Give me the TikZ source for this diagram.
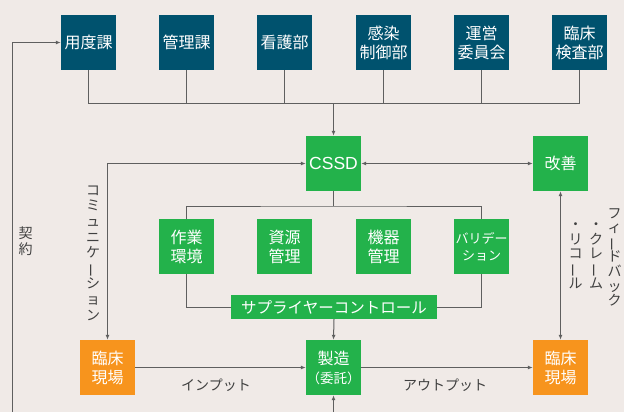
\documentclass[tikz,border=0pt]{standalone}
\usepackage{fontspec}
\setmainfont{Noto Sans CJK JP}
\newfontfamily\latinfont{Liberation Sans}
\usetikzlibrary{arrows.meta}
\definecolor{bg}{RGB}{240,234,231}
\definecolor{navybox}{RGB}{0,82,110}
\definecolor{grnbox}{RGB}{35,178,75}
\definecolor{orgbox}{RGB}{247,148,29}
\definecolor{lineg}{RGB}{95,95,95}
\definecolor{labelg}{RGB}{64,64,64}
\newcommand{\vbar}{\smash{\rotatebox[origin=c]{90}{ー}}}
\begin{document}
\begin{tikzpicture}[x=1pt,y=-1pt,
  box/.style={minimum width=55pt,minimum height=55pt,inner sep=0pt,align=center,text=white,font=\fontsize{16}{19}\selectfont},
  navy/.style={box,fill=navybox},
  grn/.style={box,fill=grnbox},
  org/.style={box,fill=orgbox},
  conn/.style={draw=lineg,line width=1pt},
  arr/.style={conn,-{Latex[length=5pt,width=4pt]}},
  arrtwo/.style={conn,{Latex[length=5pt,width=4pt]}-{Latex[length=5pt,width=4pt]}},
  lbl/.style={text=labelg,inner sep=0pt,align=center,font=\fontsize{14}{14.6}\selectfont}]
\useasboundingbox (0,0) rectangle (624,412);
\fill[bg] (0,0) rectangle (624,412);

% top row
\node[navy] (yodo)   at (88.5,42.5)  {用度課};
\node[navy] (kanri)  at (186.5,42.5) {管理課};
\node[navy] (kango)  at (284.5,42.5) {看護部};
\node[navy] (kansen) at (383.5,42.5) {感染\\制御部};
\node[navy] (unei)   at (481.5,42.5) {運営\\委員会};
\node[navy] (rinken) at (579.5,42.5) {臨床\\検査部};

% middle
\node[grn,font=\latinfont\fontsize{17.5}{20}\selectfont] (cssd) at (333.5,163.5) {CSSD};
\node[grn] (kaizen) at (560.5,163.5) {改善};
\node[grn] (sagyo)  at (186.5,246.5) {作業\\環境};
\node[grn] (shigen) at (284.5,246.5) {資源\\管理};
\node[grn] (kiki)   at (383.5,246.5) {機器\\管理};
\node[grn,font=\fontsize{13}{17}\selectfont] (valid) at (481.5,246.5) {バリデー\\ション};
\node[grn,minimum width=206pt,minimum height=24pt,font=\fontsize{15.5}{18}\selectfont] (supplier) at (334,307) {サプライヤーコントロール};

% bottom
\node[org] (clin1) at (107.5,367.5) {臨床\\現場};
\node[grn] (seizo) at (333.5,367.5) {製造\\{\fontsize{13.5}{17}\selectfont（委託）}};
\node[org] (clin2) at (560.5,367.5) {臨床\\現場};

% coordinates
\coordinate (tbus) at (333.5,103.5);
\coordinate (mbus) at (333.5,206);
\coordinate (kbot) at (12,412);
\coordinate (sbot) at (333.5,412);

% top bus
\draw[conn] (yodo.south) |- (tbus) -| (rinken.south);
\foreach \n in {kanri,kango,kansen,unei} \draw[conn] (\n.south) -- (\n.south |- tbus);
\draw[arr] (tbus) -- (cssd.north);

% middle bus
\draw[conn] (cssd.south) -- (mbus);
\draw[conn] (sagyo.north) |- (mbus) -| (valid.north);

% supplier
\draw[conn] (sagyo.south) |- (supplier.west);
\draw[conn] (valid.south) |- (supplier.east);
\draw[arr] (supplier.south) -- (seizo.north);

% arrows
\draw[arrtwo] (cssd.west) -| (clin1.north);
\draw[arrtwo] (cssd) -- (kaizen);
\draw[arrtwo] (kaizen) -- (clin2);
\draw[arr] (clin1) -- (seizo);
\draw[arr] (seizo) -- (clin2);
\draw[arr] (kbot) |- (yodo.west);
\draw[arr] (sbot) -- (seizo.south);

% labels
\node[lbl] (linput)  at (216,385) {インプット};
\node[lbl] (loutput) at (445,385) {アウトプット};
\node[lbl,font=\fontsize{14}{16}\selectfont] (lkeiyaku) at (25.5,241) {契\\約};
\node[lbl,font=\fontsize{14}{15.6}\selectfont] (lcomm) at (93,253) {コ\\ミ\\ュ\\ニ\\ケ\\\vbar\\シ\\ョ\\ン};
\node[lbl,anchor=north] (lfb) at (614.5,208) {フ\\ィ\\\vbar\\ド\\バ\\ッ\\ク};
\node[lbl,anchor=north] (lclaim) at (596,222.6) {・\\ク\\レ\\\vbar\\ム};
\node[lbl,anchor=north] (lrecall) at (575.5,222.6) {・\\リ\\コ\\\vbar\\ル};
\end{tikzpicture}
\end{document}
